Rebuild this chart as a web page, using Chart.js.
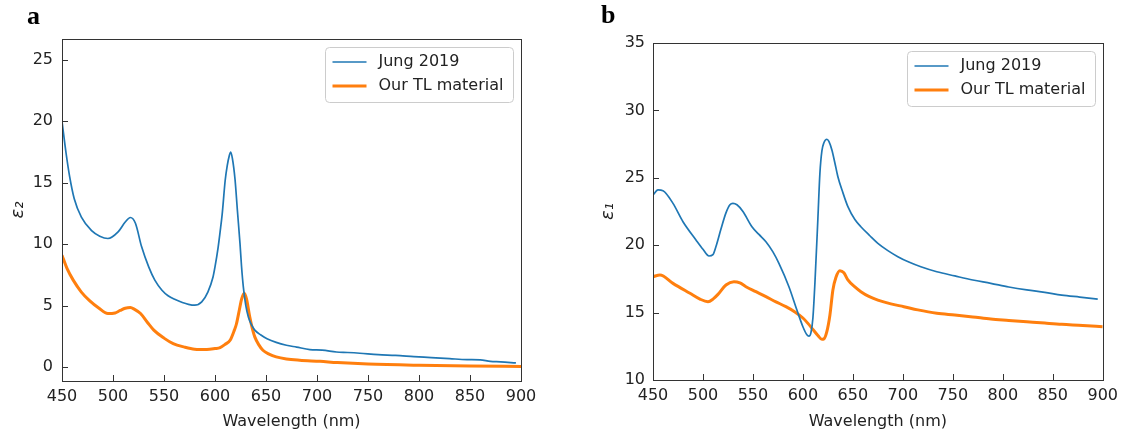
<!DOCTYPE html>
<html><head><meta charset="utf-8">
<script src="https://cdn.jsdelivr.net/npm/chart.js@4/dist/chart.umd.min.js"></script>
<style>
html,body{margin:0;padding:0;background:#fff;}
#wrap{position:relative;width:1124px;height:434px;overflow:hidden;background:#fff;}
canvas{position:absolute;top:0;}
.lbl{position:absolute;font:bold 26px 'Liberation Serif','Times New Roman',serif;line-height:26px;color:#000;}
</style></head><body>
<div id="wrap">
<canvas id="ca" width="560" height="434" style="left:0"></canvas>
<canvas id="cb" width="564" height="434" style="left:560px"></canvas>
<div class="lbl" style="left:27px;top:3px">a</div>
<div class="lbl" style="left:601px;top:2px">b</div>
</div>
<script>
// ---- data ----
const seriesLabels = ['Jung 2019', 'Our TL material'];
const xTicks = [450,500,550,600,650,700,750,800,850,900];
const yTicksA = [0,5,10,15,20,25];
const yTicksB = [10,15,20,25,30,35];

// panel a: epsilon_2
const wlA_jung = [450,454,457.5,462,469,479,487,495,505,512,517,522,528,535,541,548,554,561,568,574,580,587,593,598,600,603,605,607,610,612,614,615.4,617,619.6,622,624.5,626,627.8,630,632.7,636,639,645,651,660,670,680,693,705,719,730,742,760,777,795,812,830,847,860,870,880,895];
const epsA_jung = [20,17.4,15.5,13.7,12.2,11.1,10.65,10.46,11.0,11.8,12.17,11.7,9.8,8.15,7.07,6.25,5.8,5.49,5.25,5.1,5.03,5.3,6.1,7.3,8.15,9.7,11.0,12.4,15.2,16.4,17.2,17.5,17.0,15.3,12.7,10.06,8.2,6.5,5.1,4.07,3.4,3.0,2.6,2.3,2.0,1.77,1.62,1.42,1.38,1.22,1.18,1.12,1.0,0.95,0.85,0.77,0.68,0.6,0.58,0.45,0.42,0.33];
const wlA_tl = [450,455,461,469,477,486,495,502,507,512,517,521,527,534,540,550,559,570,580,592,600,605,610,615,619,621,624,626,628.7,631,634,637,639,643,647,653,660,670,683,703,720,750,800,850,900];
const epsA_tl = [9.1,8.0,7.07,6.1,5.4,4.8,4.35,4.4,4.6,4.78,4.84,4.7,4.35,3.6,3.0,2.35,1.9,1.62,1.45,1.42,1.5,1.58,1.85,2.2,3.0,3.5,4.7,5.5,6.0,5.5,4.1,3.0,2.45,1.8,1.36,1.05,0.82,0.65,0.55,0.46,0.36,0.24,0.14,0.08,0.05];

// panel b: epsilon_1
const wlB_jung = [450,455,460,470,480,493,500,506,510,513,518,523,527,530,534,540,549,556,563,570,576,586,594,600,604,606,608,610,612,615,617,619,621,624,626,629,632,635,640,645,652,658,667,675,685,695,706,718,734,752,770,788,806,824,842,859,877,895];
const epsB_jung = [23.72,24.1,24.04,23.1,21.74,20.39,19.7,19.2,19.3,19.9,21.2,22.4,23.0,23.1,23.0,22.5,21.37,20.8,20.26,19.5,18.65,16.92,15.19,13.95,13.35,13.26,13.5,14.6,17.17,22.0,25.33,27.0,27.6,27.86,27.7,27.06,26.1,25.08,23.9,22.86,21.9,21.37,20.7,20.14,19.6,19.15,18.75,18.4,18.03,17.72,17.42,17.17,16.9,16.68,16.5,16.3,16.15,16.0];
const wlB_tl = [450,457,470,487,497,505,510,515,523,531,537,543,553,563,573,583,592,600,605,610,615,619,621,624,627,630,633,637,641,645,652,658,666,675,688,701,715,734,752,770,788,806,824,842,859,880,900];
const epsB_tl = [17.66,17.79,17.17,16.43,16.0,15.81,16.0,16.35,17.05,17.29,17.2,16.92,16.55,16.18,15.8,15.44,15.05,14.6,14.2,13.75,13.3,13.02,13.05,13.6,14.8,16.68,17.6,18.1,17.95,17.42,16.9,16.55,16.2,15.93,15.65,15.44,15.2,14.95,14.82,14.68,14.52,14.42,14.32,14.22,14.13,14.05,13.95];

const BLUE = '#1f77b4', ORANGE = '#ff7f0e';
const FONT = 'DejaVu Sans';
const TXT = '#222';

const pts = (xs, ys) => xs.map((x, i) => ({x, y: ys[i]}));

const framePlugin = {
  id: 'frameTicksLegend',
  afterDatasetsDraw(chart) {
    const {ctx, chartArea: a, scales: {x, y}} = chart;
    ctx.save();
    ctx.strokeStyle = '#333';
    ctx.lineWidth = 1;
    ctx.beginPath();
    x.ticks.forEach(t => {
      const px = Math.round(x.getPixelForValue(t.value)) + 0.5;
      ctx.moveTo(px, a.bottom); ctx.lineTo(px, a.bottom - 6);
    });
    y.ticks.forEach(t => {
      const py = Math.round(y.getPixelForValue(t.value)) + 0.5;
      ctx.moveTo(a.left, py); ctx.lineTo(a.left + 6, py);
    });
    ctx.stroke();
    ctx.strokeRect(Math.round(a.left) + 0.5, Math.round(a.top) + 0.5,
                   Math.round(a.right - a.left), Math.round(a.bottom - a.top));
    // legend
    const w = 188, h = 55;
    const lx = Math.round(a.right - 8 - w) + 0.5, ly = Math.round(a.top + 8) + 0.5;
    ctx.beginPath();
    if (ctx.roundRect) ctx.roundRect(lx, ly, w, h, 4); else ctx.rect(lx, ly, w, h);
    ctx.fillStyle = 'rgba(255,255,255,0.8)';
    ctx.fill();
    ctx.strokeStyle = '#cccccc';
    ctx.lineWidth = 1;
    ctx.stroke();
    chart.data.datasets.forEach((ds, i) => {
      const yy = ly + 14.5 + 24 * i;
      ctx.beginPath();
      ctx.strokeStyle = ds.borderColor;
      ctx.lineWidth = ds.borderWidth;
      ctx.moveTo(lx + 7, yy); ctx.lineTo(lx + 41, yy);
      ctx.stroke();
      ctx.fillStyle = TXT;
      ctx.font = '16px "' + FONT + '"';
      ctx.textBaseline = 'middle';
      ctx.textAlign = 'left';
      ctx.fillText(ds.label, lx + 53, yy);
    });
    ctx.restore();
  }
};

function makeChart(id, d1, d2, yMin, yMax, yTicks, yTitle, pad, yWidth, xHeight, yTitlePad, yLabelPad) {
  return new Chart(document.getElementById(id), {
    type: 'line',
    data: {
      datasets: [
        {label: seriesLabels[0], data: d1, borderColor: BLUE, borderWidth: 1.7, pointRadius: 0, fill: false},
        {label: seriesLabels[1], data: d2, borderColor: ORANGE, borderWidth: 3, pointRadius: 0, fill: false}
      ]
    },
    options: {
      responsive: false, animation: false, devicePixelRatio: 1,
      layout: {padding: {left: 0, top: pad.top, right: pad.right, bottom: 0}},
      plugins: {legend: {display: false}, tooltip: {enabled: false}},
      elements: {line: {cubicInterpolationMode: 'monotone'}},
      scales: {
        x: {
          type: 'linear', min: 450, max: 900,
          grid: {display: false, drawTicks: false}, border: {display: false},
          ticks: {padding: 6, color: TXT, autoSkip: false, maxRotation: 0, font: {family: FONT, size: 16}},
          afterBuildTicks: s => { s.ticks = xTicks.map(v => ({value: v})); },
          afterFit: s => { s.height = xHeight; },
          title: {display: true, text: 'Wavelength (nm)', color: TXT, font: {family: FONT, size: 16}, padding: {top: 0, bottom: 3}}
        },
        y: {
          type: 'linear', min: yMin, max: yMax,
          grid: {display: false, drawTicks: false}, border: {display: false},
          ticks: {padding: yLabelPad, color: TXT, font: {family: FONT, size: 16}},
          afterBuildTicks: s => { s.ticks = yTicks.map(v => ({value: v})); },
          afterFit: s => { s.width = yWidth; },
          title: {display: true, text: yTitle, color: TXT, font: {family: FONT, size: 18, style: 'italic'}, padding: {top: yTitlePad, bottom: 0}}
        }
      }
    },
    plugins: [framePlugin]
  });
}

makeChart('ca', pts(wlA_jung, epsA_jung), pts(wlA_tl, epsA_tl), -1.14, 26.7, yTicksA, 'ε₂',
          {top: 39, right: 39}, 62, 53, 7.5, 9);
makeChart('cb', pts(wlB_jung, epsB_jung), pts(wlB_tl, epsB_tl), 10, 35, yTicksB, 'ε₁',
          {top: 43, right: 17}, 93, 54, 38, 8);
</script>
</body></html>
